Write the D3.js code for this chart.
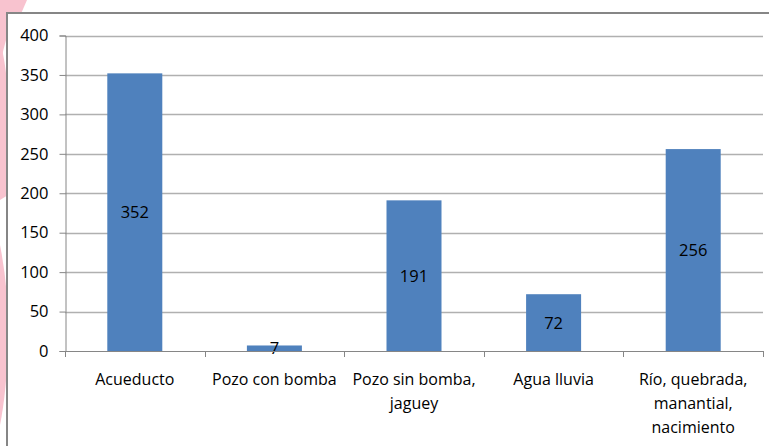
<!DOCTYPE html>
<html><head><meta charset="utf-8">
<script src="https://cdn.jsdelivr.net/npm/d3@7"></script>
<style>html,body{margin:0;padding:0;background:#fff;overflow:hidden}svg{display:block}</style>
</head><body><svg id="c" width="769" height="446"></svg>
<script>
const categories = ["Acueducto", "Pozo con bomba", "Pozo sin bomba, jaguey", "Agua lluvia", "Río, quebrada, manantial, nacimiento"];
const values = [352, 7, 191, 72, 256];
const yTicks = [0, 50, 100, 150, 200, 250, 300, 350, 400];

(function () {
const svg = d3.select("#c");
const FONT = "'Open Sans', 'Noto Sans', sans-serif";
const W = 769, H = 446;
const pLeft = 65, pRight = 763, pTop = 35.5, pBottom = 351;

// pink decoration behind the chart
svg.append("path")
  .attr("d", "M9,0 L27,0 Q18,22 6,40 Q0,60 0,80 L0,0 Z")
  .attr("fill", "#f8c3cf");
svg.append("path")
  .attr("d", "M0,40 Q10,80 8,130 Q6,170 8,195 L0,200 Z")
  .attr("fill", "#f8c3cf");
svg.append("path")
  .attr("d", "M0,245 Q9,290 8,340 Q7,390 0,425 Z")
  .attr("fill", "#f8c3cf");

// chart area
svg.append("rect").attr("x", 7).attr("y", 13).attr("width", W).attr("height", H)
  .attr("fill", "#fff").attr("stroke", "#868686").attr("stroke-width", 2);

const y = d3.scaleLinear().domain([0, 400]).range([pBottom, pTop]);
const x = d3.scaleBand().domain(categories).range([pLeft, pRight])
  .paddingInner(0.606).paddingOuter(0.303);

// gridlines
svg.append("g").selectAll("line").data(yTicks.filter(d => d > 0)).join("line")
  .attr("x1", pLeft).attr("x2", pRight)
  .attr("y1", d => Math.round(y(d)) + 0.5).attr("y2", d => Math.round(y(d)) + 0.5)
  .attr("stroke", "#b0b0b0").attr("stroke-width", 1.3);

// y axis
const yAxis = svg.append("g").attr("transform", `translate(${pLeft + 0.5},0)`)
  .call(d3.axisLeft(y).tickValues(yTicks).tickSize(6).tickPadding(11));
yAxis.select(".domain").attr("stroke", "#868686");
yAxis.selectAll(".tick line").attr("stroke", "#868686");
yAxis.selectAll(".tick text").attr("font-family", FONT).attr("font-size", 16.5).attr("fill", "#000");

// bars
svg.append("g").selectAll("rect").data(values).join("rect")
  .attr("x", (d, i) => x(categories[i]))
  .attr("width", x.bandwidth())
  .attr("y", d => y(d))
  .attr("height", d => y(0) - y(d))
  .attr("fill", "#4f81bd");

// data labels
svg.append("g").selectAll("text").data(values).join("text")
  .attr("x", (d, i) => x(categories[i]) + x.bandwidth() / 2)
  .attr("y", d => (y(d) + y(0)) / 2)
  .attr("dy", "0.36em")
  .attr("text-anchor", "middle")
  .attr("font-family", FONT).attr("font-size", 16.5).attr("fill", "#000")
  .text(d => d);

// x axis
const step = x.step();
const xg = svg.append("g");
xg.append("line").attr("x1", pLeft).attr("x2", pRight)
  .attr("y1", pBottom + 0.5).attr("y2", pBottom + 0.5).attr("stroke", "#868686");
xg.selectAll("line.tk").data(d3.range(categories.length + 1)).join("line")
  .attr("class", "tk")
  .attr("x1", i => Math.round(pLeft + i * step) + 0.5).attr("x2", i => Math.round(pLeft + i * step) + 0.5)
  .attr("y1", pBottom).attr("y2", pBottom + 6).attr("stroke", "#868686");

const labels = xg.selectAll("text.cat").data(categories).join("text")
  .attr("class", "cat")
  .attr("text-anchor", "middle")
  .attr("font-family", FONT).attr("font-size", 16).attr("fill", "#000")
  .attr("x", d => x(d) + x.bandwidth() / 2)
  .attr("y", pBottom + 34);

labels.each(function(d) {
  const t = d3.select(this);
  const cx = +t.attr("x");
  const words = d.split(" ");
  let line = [];
  let ts = t.append("tspan").attr("x", cx).attr("dy", 0);
  words.forEach(w => {
    line.push(w);
    ts.text(line.join(" "));
    if (ts.node().getComputedTextLength() > step - 8 && line.length > 1) {
      line.pop();
      ts.text(line.join(" "));
      line = [w];
      ts = t.append("tspan").attr("x", cx).attr("dy", 24).text(w);
    }
  });
});
})();
</script>
</body></html>
